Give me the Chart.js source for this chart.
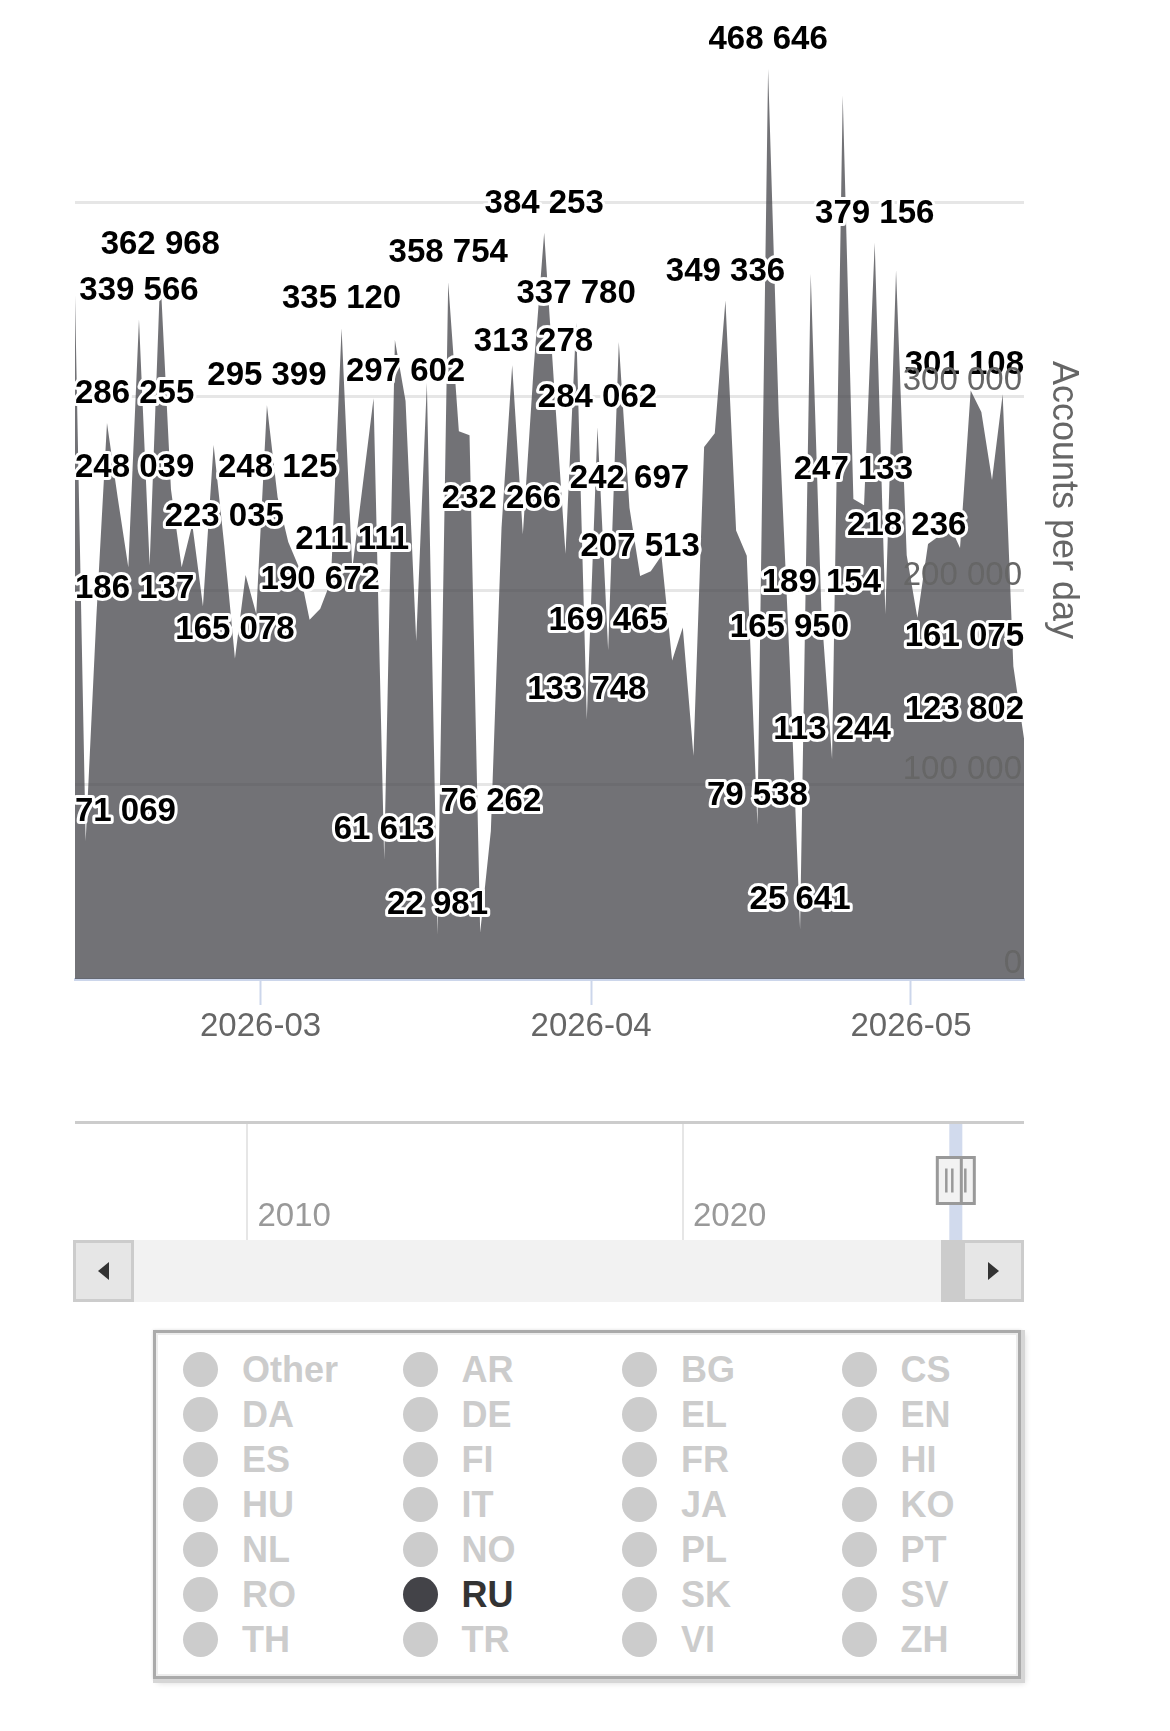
<!DOCTYPE html>
<html>
<head>
<meta charset="utf-8">
<script src="https://cdn.jsdelivr.net/npm/chart.js@4"></script>
<style>
  html, body { margin: 0; padding: 0; background: #fff; }
  body { width: 1170px; height: 1731px; position: relative; overflow: hidden;
         font-family: "Liberation Sans", Arial, sans-serif; }
  #main { position: absolute; left: 0; top: 0; }
  #nav { position: absolute; left: 0; top: 1100px; }
  .sb { position: absolute; top: 1240px; height: 62px; box-sizing: border-box; }
  #sbLeft { left: 73px; width: 61px; background: #e6e6e6; border: 3px solid #cccccc; }
  #sbTrack { left: 134px; width: 807px; background: #f2f2f2; }
  #sbThumb { left: 941px; width: 21px; background: #cccccc; }
  #sbRight { left: 962px; width: 62px; background: #e6e6e6; border: 3px solid #cccccc; }
  .arrow { position: absolute; top: 50%; left: 50%; width: 0; height: 0; margin-top: -9px; }
  #sbLeft .arrow { margin-left: -6px; border-top: 9px solid transparent; border-bottom: 9px solid transparent; border-right: 11px solid #333; }
  #sbRight .arrow { margin-left: -5px; border-top: 9px solid transparent; border-bottom: 9px solid transparent; border-left: 11px solid #333; }
  #legend { position: absolute; left: 153px; top: 1330px; width: 868px; height: 349px; box-sizing: border-box;
            border: 3px solid #aaaaaa; background: #fff;
            box-shadow: inset 0 0 0 2px #ececec, 2px 2px 0 2px #d6d6d6, 4px 4px 6px rgba(0,0,0,0.15), 0 0 3px rgba(0,0,0,0.12); }
  .item { position: absolute; height: 45px; line-height: 45px; font-weight: bold; font-size: 36px; color: #cccccc; white-space: nowrap; }
  .item .dot { position: absolute; left: -18px; top: 5px; width: 35px; height: 35px; border-radius: 50%; background: #cccccc; }
  .item .txt { position: absolute; left: 41px; top: 0; }
  .item.on { color: #333333; }
  .item.on .dot { background: #434348; }
</style>
</head>
<body>
<canvas id="main" width="1170" height="1100"></canvas>
<canvas id="nav" width="1170" height="150"></canvas>
<div class="sb" id="sbTrack"></div>
<div class="sb" id="sbThumb"></div>
<div class="sb" id="sbLeft"><div class="arrow"></div></div>
<div class="sb" id="sbRight"><div class="arrow"></div></div>
<div id="legend"></div>
<script>
// ---------------- data ----------------
const startDate = '2026-02-12';
const values = [
  352000, 71069, 186137, 286255, 248039, 212000, 339566, 213000, 362968, 252000,
  212000, 234000, 192000, 275000, 223035, 165078, 208000, 188000, 295399, 248125,
  225000, 212000, 185000, 190672, 205000, 335120, 211111, 255000, 299000, 61613,
  329000, 297602, 174000, 307000, 22981, 358754, 282000, 280000, 24000, 76262,
  232266, 316000, 229000, 313278, 384253, 300000, 219000, 337780, 133748, 284062,
  169465, 328000, 242697, 207513, 210000, 218000, 164000, 181000, 115000, 274000,
  281000, 349336, 231000, 218000, 79538, 468646, 290000, 165950, 25641, 363000,
  189154, 113244, 455000, 247133, 244000, 379156, 188000, 365000, 218236, 186000,
  224000, 228000, 234000, 222000, 303000, 292000, 257000, 301108, 161075, 123802
];
const labeledDays = [1,2,3,4,6,8,14,15,18,19,23,25,26,29,31,34,35,39,40,43,44,47,48,49,50,52,53,61,64,65,67,68,70,71,73,75,78,87,88,89];
const xTickDates = ['2026-03-01', '2026-04-01', '2026-05-01'];
const xTickLabels = ['2026-03', '2026-04', '2026-05'];
const tickShiftDays = 0.4;
const yTicks = [0, 100000, 200000, 300000, 400000];
const yMax = 500000;
const yTitle = 'Accounts per day';
const navMinYear = 2006.04;
const navMaxYear = 2027.83;
const navTicks = [2010, 2020];
const navTickLabels = ['2010', '2020'];
const legendNames = ['Other','AR','BG','CS','DA','DE','EL','EN','ES','FI','FR','HI','HU','IT','JA','KO','NL','NO','PL','PT','RO','RU','SK','SV','TH','TR','VI','ZH'];
const shownSeries = 'RU';

// ---------------- helpers ----------------
const DAY = 86400000;
const dayIndex = d => (Date.parse(d) - Date.parse(startDate)) / DAY;
const fmt = v => String(v).replace(/\B(?=(\d{3})+(?!\d))/g, ' ');
function decimalYear(d) {
  const t = Date.parse(d); const y = new Date(t).getUTCFullYear();
  return y + (t - Date.UTC(y, 0, 1)) / (365 * DAY);
}
const FONT = '"Liberation Sans", Arial, Helvetica, sans-serif';
Chart.defaults.font.family = FONT;

const points = values.map((v, i) => ({ x: i, y: v }));

// ---------------- plugins (main) ----------------
const dataLabelPlugin = {
  id: 'dataLabels',
  afterDatasetsDraw(chart) {
    const meta = chart.getDatasetMeta(0);
    const ctx = chart.ctx, a = chart.chartArea;
    ctx.save();
    ctx.font = 'bold 33px ' + FONT;
    ctx.textAlign = 'center';
    ctx.textBaseline = 'middle';
    ctx.lineJoin = 'round';
    ctx.lineWidth = 6;
    ctx.strokeStyle = '#ffffff';
    ctx.fillStyle = '#000000';
    labeledDays.forEach(i => {
      const el = meta.data[i];
      const txt = fmt(values[i]);
      const w = ctx.measureText(txt).width;
      const x = Math.min(Math.max(el.x, a.left + w / 2), a.right - w / 2);
      const y = el.y - 29;
      ctx.strokeText(txt, x, y);
      ctx.fillText(txt, x, y);
    });
    ctx.restore();
  },
  afterDraw(chart) {
    const ctx = chart.ctx, a = chart.chartArea, ys = chart.scales.y;
    ctx.save();
    ctx.font = '33px ' + FONT;
    ctx.fillStyle = '#666666';
    ctx.textAlign = 'right';
    ctx.textBaseline = 'alphabetic';
    yTicks.forEach((v, i) => {
      if (i === yTicks.length - 1) return; // last label hidden
      ctx.fillText(fmt(v), a.right - 2, ys.getPixelForValue(v) - 6);
    });
    ctx.font = '36px ' + FONT;
    ctx.textAlign = 'center';
    ctx.textBaseline = 'middle';
    ctx.translate(1063, 500);
    ctx.rotate(Math.PI / 2);
    ctx.fillText(yTitle, 0, 0);
    ctx.restore();
  }
};

new Chart(document.getElementById('main'), {
  type: 'line',
  data: {
    datasets: [{
      data: points,
      fill: 'origin',
      backgroundColor: 'rgba(67,67,72,0.75)',
      borderWidth: 0,
      borderColor: 'rgba(0,0,0,0)',
      pointRadius: 0,
      tension: 0
    }]
  },
  options: {
    responsive: false,
    animation: false,
    events: [],
    layout: { padding: { left: 75, top: 8, right: 146, bottom: 61 } },
    plugins: { legend: { display: false }, tooltip: { enabled: false } },
    scales: {
      x: {
        type: 'linear',
        min: 0,
        max: values.length - 1,
        afterBuildTicks: s => { s.ticks = xTickDates.map(d => ({ value: dayIndex(d) + tickShiftDays })); },
        afterFit: s => { s.height = 60; },
        border: { display: true, color: '#ccd6eb', width: 3 },
        grid: { drawOnChartArea: false, drawTicks: true, tickLength: 26, tickColor: '#ccd6eb', tickWidth: 2 },
        ticks: {
          autoSkip: false, maxRotation: 0, padding: 2,
          color: '#666666', font: { size: 33 },
          callback: (v, i) => xTickLabels[i]
        }
      },
      y: {
        position: 'right',
        min: 0,
        max: yMax,
        afterBuildTicks: s => { s.ticks = yTicks.map(v => ({ value: v })); },
        afterFit: s => { s.width = 0; },
        border: { display: false },
        grid: { color: '#e6e6e6', lineWidth: 3, drawTicks: false },
        ticks: { display: false }
      }
    }
  },
  plugins: [dataLabelPlugin]
});

// ---------------- navigator ----------------
const navPlugin = {
  id: 'navigatorDeco',
  afterDraw(chart) {
    const ctx = chart.ctx, a = chart.chartArea, xs = chart.scales.x;
    ctx.save();
    ctx.font = '33px ' + FONT;
    ctx.fillStyle = '#999999';
    ctx.textAlign = 'left';
    ctx.textBaseline = 'middle';
    navTicks.forEach((v, i) => ctx.fillText(navTickLabels[i], xs.getPixelForValue(v) + 10, a.bottom - 23));
    const x0 = xs.getPixelForValue(decimalYear(startDate));
    const endDate = new Date(Date.parse(startDate) + (values.length - 1) * DAY).toISOString().slice(0, 10);
    const x1 = Math.max(xs.getPixelForValue(decimalYear(endDate)), x0 + 13);
    ctx.fillStyle = 'rgba(102,133,194,0.3)';
    ctx.fillRect(x0, a.top, x1 - x0, a.bottom - a.top);
    ctx.strokeStyle = '#cccccc';
    ctx.lineWidth = 3;
    ctx.beginPath();
    ctx.moveTo(a.left, a.top + 1.5); ctx.lineTo(a.right, a.top + 1.5);
    ctx.stroke();
    const cy = (a.top + a.bottom) / 2;
    [x1, x0].forEach(cx => {
      ctx.fillStyle = '#f2f2f2';
      ctx.strokeStyle = '#999999';
      ctx.lineWidth = 3;
      ctx.fillRect(cx - 12, cy - 23, 24, 46);
      ctx.strokeRect(cx - 12, cy - 23, 24, 46);
      ctx.lineWidth = 2.5;
      ctx.beginPath();
      ctx.moveTo(cx - 3, cy - 12); ctx.lineTo(cx - 3, cy + 12);
      ctx.moveTo(cx + 3, cy - 12); ctx.lineTo(cx + 3, cy + 12);
      ctx.stroke();
    });
    ctx.restore();
  }
};

new Chart(document.getElementById('nav'), {
  type: 'line',
  data: { datasets: [{ data: [], pointRadius: 0 }] },
  options: {
    responsive: false,
    animation: false,
    events: [],
    layout: { padding: { left: 75, top: 21, right: 146, bottom: 10 } },
    plugins: { legend: { display: false }, tooltip: { enabled: false } },
    scales: {
      x: {
        type: 'linear', min: navMinYear, max: navMaxYear,
        afterBuildTicks: s => { s.ticks = navTicks.map(v => ({ value: v })); },
        afterFit: s => { s.height = 0; },
        border: { display: false },
        grid: { color: '#e6e6e6', lineWidth: 2, drawTicks: false },
        ticks: { display: false }
      },
      y: { display: false, min: 0, max: 1 }
    }
  },
  plugins: [navPlugin]
});

// ---------------- legend ----------------
const legend = document.getElementById('legend');
legendNames.forEach((name, i) => {
  const col = i % 4, row = Math.floor(i / 4);
  const el = document.createElement('div');
  el.className = 'item' + (name === shownSeries ? ' on' : '');
  el.style.left = (201 - 153 - 3 + col * 219.5) + 'px';
  el.style.top = (1369 - 1330 - 3 - 22 + row * 45) + 'px';
  el.innerHTML = '<span class="dot"></span><span class="txt"></span>';
  el.querySelector('.txt').textContent = name;
  legend.appendChild(el);
});
</script>
</body>
</html>
